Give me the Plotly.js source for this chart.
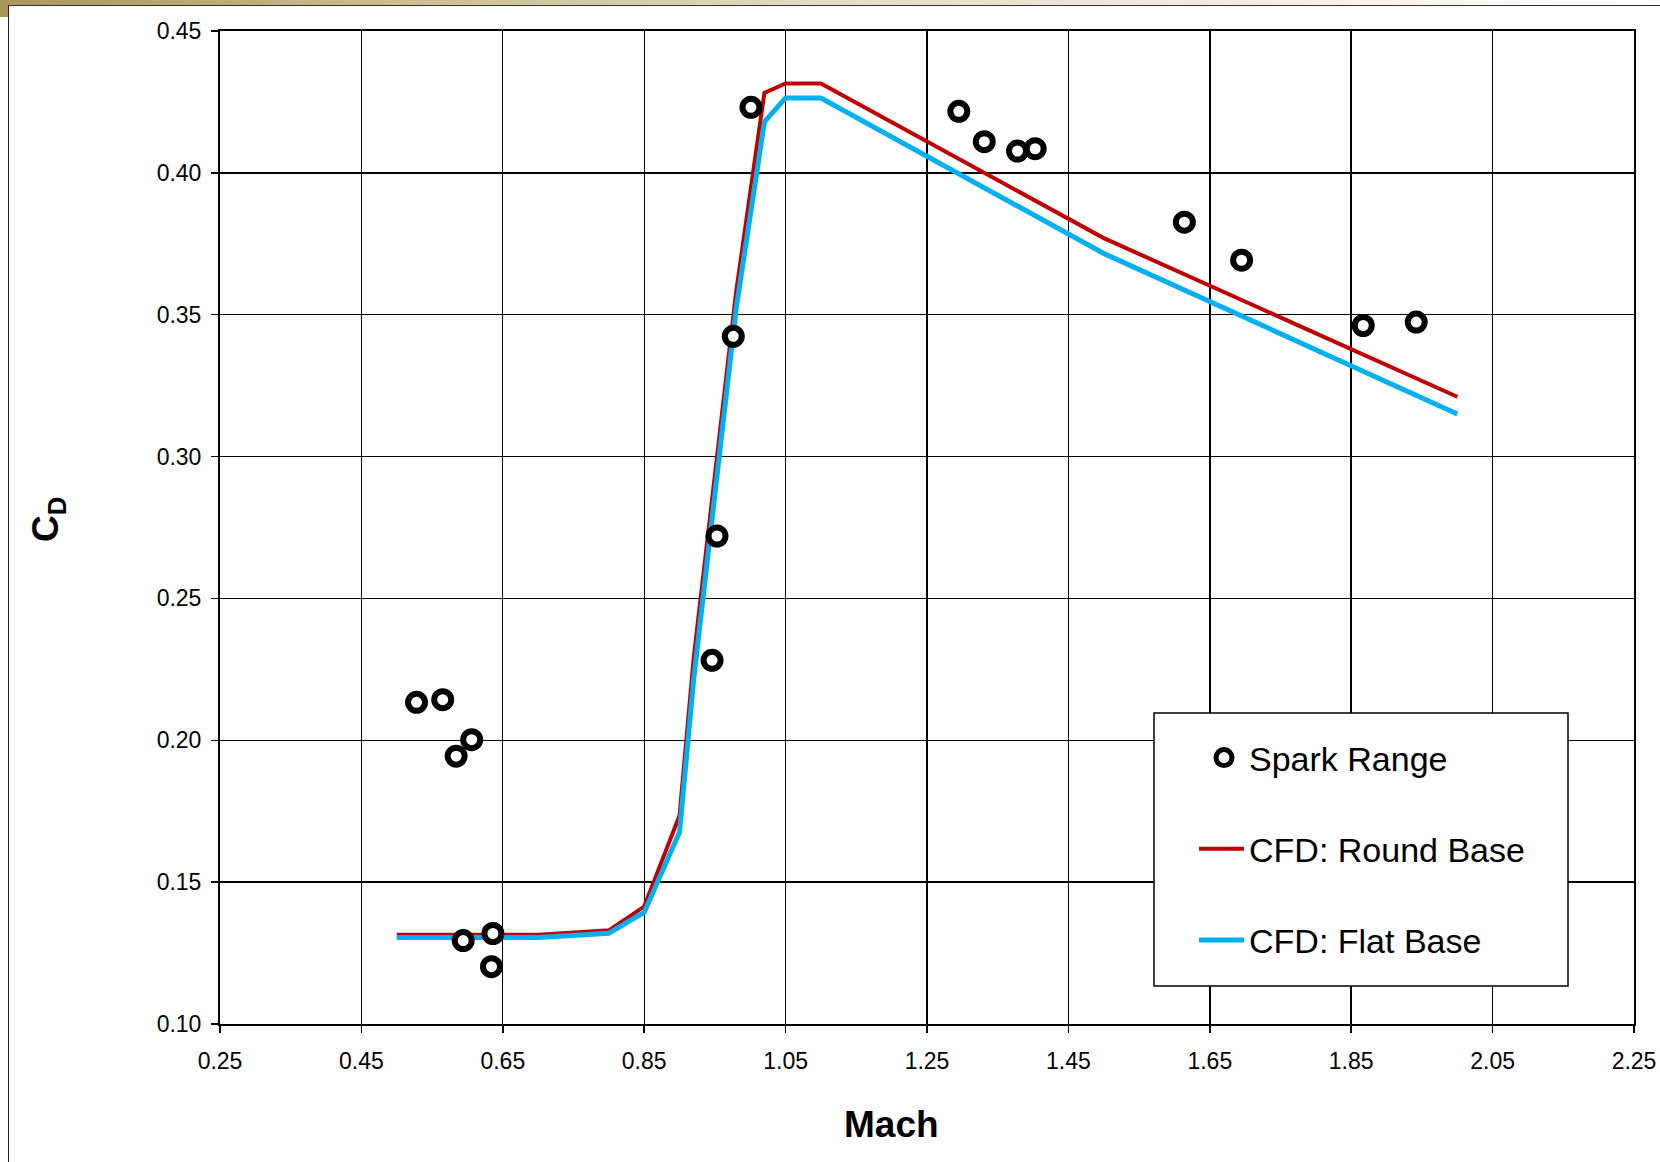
<!DOCTYPE html>
<html>
<head>
<meta charset="utf-8">
<script src="https://cdn.plot.ly/plotly-3.0.1.min.js"></script>
<style>
  html, body { margin:0; padding:0; background:#ffffff; overflow:hidden; }
  #goldTop { position:absolute; left:0; top:0; width:1660px; height:5px;
    background: linear-gradient(90deg, #a8965a 0%, #c9ba8a 22%, #e2dbc4 50%, #f3f0e6 78%, #ffffff 100%); }
  #goldLeft { position:absolute; left:0; top:0; width:8px; height:17px; background:#a8965a; }
  #frame { position:absolute; left:8px; top:5px; width:1660px; height:1200px;
    border-left:1.5px solid #222; border-top:1.5px solid #333; box-sizing:border-box; }
  #chart { position:absolute; left:0; top:0; width:1660px; height:1162px; }
</style>
</head>
<body>
<div id="goldTop"></div>
<div id="goldLeft"></div>
<div id="frame"></div>
<div id="chart"></div>
<script>
// ---- Data ----
const sparkMach = [0.528, 0.565, 0.606, 0.584, 0.594, 0.636, 0.634, 0.946, 0.953, 0.976, 1.001, 1.295, 1.331, 1.378, 1.403, 1.614, 1.695, 1.867, 1.942];
const sparkCd   = [0.2134, 0.2143, 0.2002, 0.1944, 0.1294, 0.1319, 0.1202, 0.2282, 0.2720, 0.3424, 0.4231, 0.4217, 0.4110, 0.4077, 0.4085, 0.3826, 0.3692, 0.3462, 0.3474];

const cfdMach   = [0.50, 0.70, 0.80, 0.85, 0.90, 0.92, 0.98, 1.02, 1.05, 1.10, 1.50, 2.00];
const roundCd   = [0.1315, 0.1315, 0.1330, 0.1414, 0.1735, 0.2290, 0.3580, 0.4282, 0.4315, 0.4315, 0.3770, 0.3211];
const flatCd    = [0.1305, 0.1305, 0.1320, 0.1394, 0.1676, 0.2215, 0.3520, 0.4180, 0.4264, 0.4264, 0.3716, 0.3150];

const seriesNames = ['Spark Range', 'CFD: Round Base', 'CFD: Flat Base'];
const xTitle = 'Mach';
const yTitle = 'C<sub>D</sub>';

// ---- Figure ----
const FONT = 'Arial, "Liberation Sans", sans-serif';
const W = 1660, H = 1162;
const M = { l: 220, r: 26, t: 31, b: 138 };
const PW = W - M.l - M.r, PH = H - M.t - M.b;
const px2x = p => (p - M.l) / PW;
const px2y = p => (H - M.b - p) / PH;

const traces = [
  {
    x: cfdMach, y: roundCd, name: seriesNames[1], type: 'scatter', mode: 'lines',
    line: { color: '#C00000', width: 4 }, legendrank: 2, legendgroup: 'b'
  },
  {
    x: cfdMach, y: flatCd, name: seriesNames[2], type: 'scatter', mode: 'lines',
    line: { color: '#00B0F0', width: 5 }, legendrank: 3, legendgroup: 'c'
  },
  {
    x: sparkMach, y: sparkCd, name: seriesNames[0], type: 'scatter', mode: 'markers',
    marker: { symbol: 'circle', size: 17, color: '#ffffff', line: { color: '#000000', width: 6 } },
    legendrank: 1, legendgroup: 'a'
  }
];

const axisCommon = {
  showline: true, linecolor: '#000', linewidth: 2, mirror: true,
  showgrid: true, gridcolor: '#000', gridwidth: 1.4,
  zeroline: false, ticks: 'outside', ticklen: 7, tickwidth: 1.5, tickcolor: '#000',
  tickfont: { family: FONT, size: 23, color: '#000' }, tickformat: '.2f'
};

const layout = {
  width: W, height: H, margin: M,
  paper_bgcolor: 'rgba(0,0,0,0)', plot_bgcolor: '#ffffff',
  font: { family: FONT, color: '#000' },
  xaxis: Object.assign({}, axisCommon, { range: [0.25, 2.25], tick0: 0.25, dtick: 0.2, ticklabelstandoff: 8 }),
  yaxis: Object.assign({}, axisCommon, { range: [0.10, 0.45], tick0: 0.10, dtick: 0.05, ticklabelstandoff: 5 }),
  showlegend: true,
  legend: {
    x: px2x(1199), y: px2y(729), xanchor: 'left', yanchor: 'top',
    bgcolor: 'rgba(0,0,0,0)', borderwidth: 0,
    font: { family: FONT, size: 34, color: '#000' },
    traceorder: 'grouped', tracegroupgap: 44, itemwidth: 40
  },
  shapes: [
    { type: 'rect', xref: 'paper', yref: 'paper', layer: 'above',
      x0: px2x(1154), x1: px2x(1568), y0: px2y(986), y1: px2y(713),
      fillcolor: '#ffffff', line: { color: '#000', width: 1.5 } }
  ],
  annotations: [
    { text: '<b>' + xTitle + '</b>', xref: 'paper', yref: 'paper', x: px2x(891), y: px2y(1124),
      xanchor: 'center', yanchor: 'middle', showarrow: false, font: { family: FONT, size: 37, color: '#000' } },
    { text: '<b>' + yTitle + '</b>', xref: 'paper', yref: 'paper', x: px2x(48), y: px2y(520),
      xanchor: 'center', yanchor: 'middle', textangle: -90, showarrow: false, font: { family: FONT, size: 37, color: '#000' } }
  ]
};

Plotly.newPlot('chart', traces, layout, { displayModeBar: false, staticPlot: true }).then(gd => {
  // lengthen the legend line samples to match the reference swatch length
  gd.querySelectorAll('.legendlines path').forEach(p => {
    const d = p.getAttribute('d') || '';
    const m = d.match(/^M([-\d.]+),([-\d.]+)h([-\d.]+)/);
    if (m) {
      const s = parseFloat(m[1]) - 11, y = m[2], L = parseFloat(m[3]) + 11;
      p.setAttribute('d', 'M' + s + ',' + y + 'h' + L);
    }
  });
});
</script>
</body>
</html>
